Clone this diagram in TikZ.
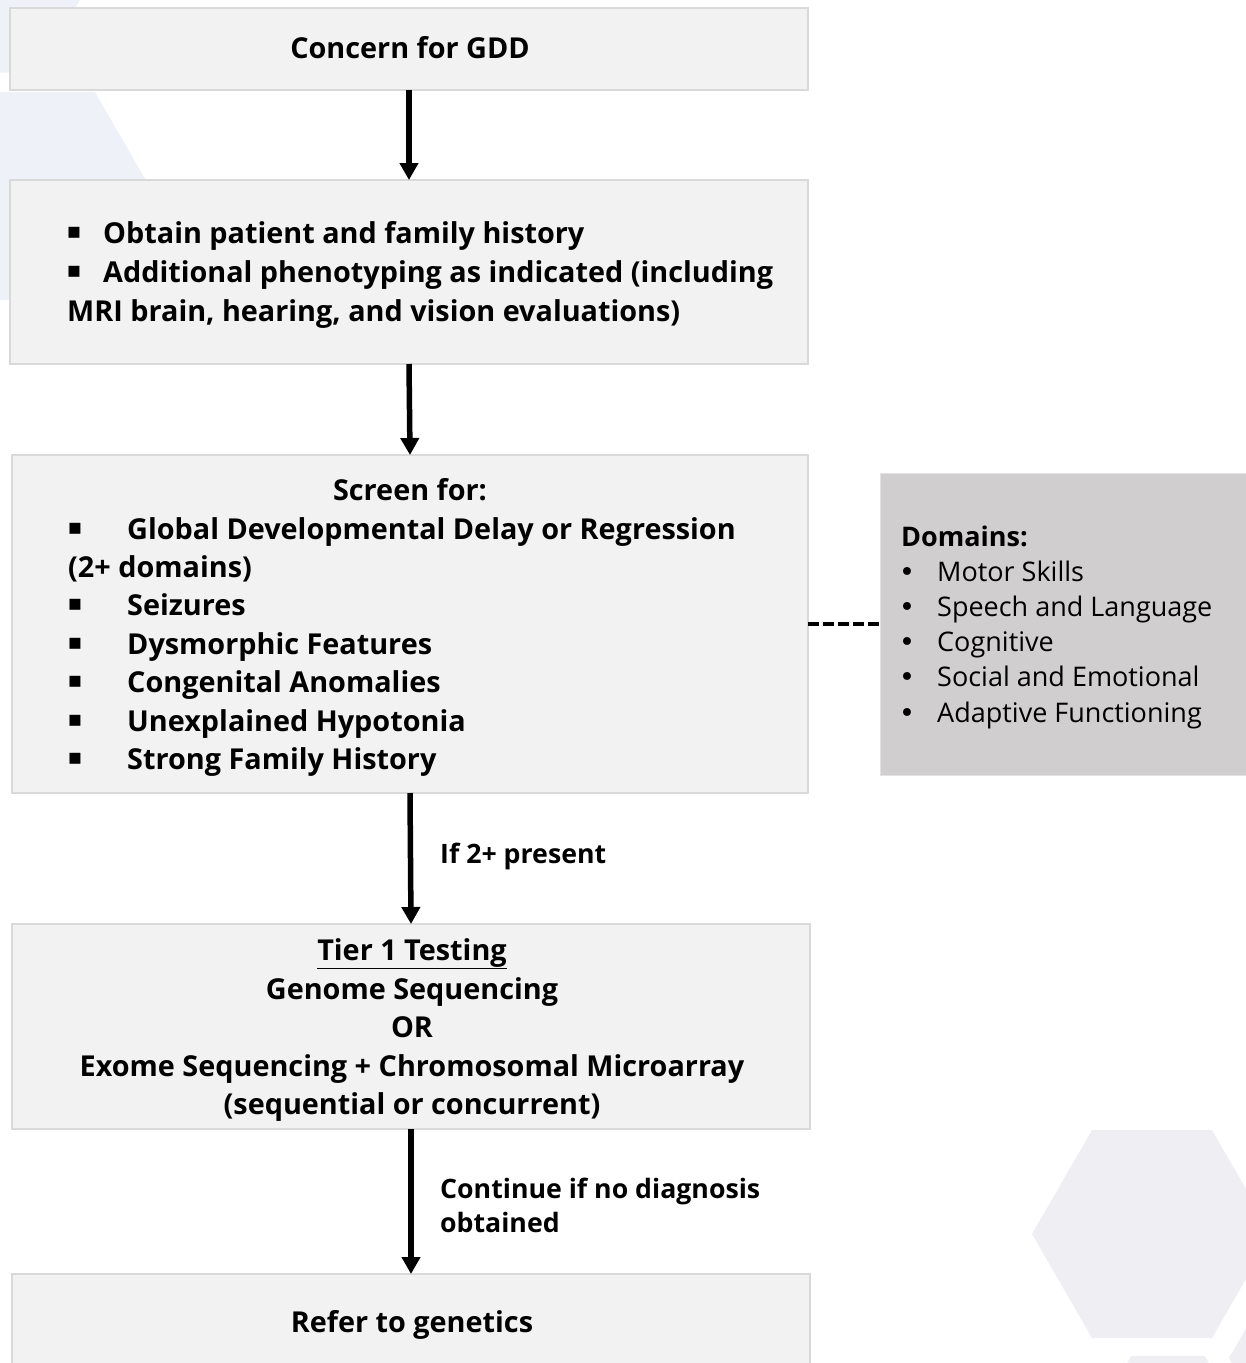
\documentclass[tikz,border=0pt]{standalone}
\usepackage{fontspec}
\setmainfont{Open Sans}
\newfontfamily\symfont{DejaVu Sans}
\usetikzlibrary{arrows.meta}
\definecolor{boxfill}{HTML}{F2F2F2}
\definecolor{boxline}{HTML}{D9D9D9}
\definecolor{domfill}{HTML}{D0CECE}
\definecolor{domline}{HTML}{E2E2E2}
\definecolor{hexa}{HTML}{EEF2F8}
\definecolor{hexb}{HTML}{EEEEF3}
\begin{document}
\begin{tikzpicture}[x=1pt,y=-1pt,
 box/.style={draw=boxline, line width=1.5pt, fill=boxfill, inner sep=0pt, outer sep=0pt},
 dombox/.style={draw=domline, line width=1pt, fill=domfill, inner sep=0pt, outer sep=0pt},
 txt/.style={font=\fontsize{28.8}{34}\selectfont\bfseries, inner sep=0pt, anchor=base west},
 ctxt/.style={txt, anchor=base},
 lbl/.style={font=\fontsize{26.7}{32}\selectfont\bfseries, inner sep=0pt, anchor=base west},
 dtxt/.style={font=\fontsize{27}{32}\selectfont, inner sep=0pt, anchor=base west},
 dbul/.style={font=\fontsize{27}{32}\selectfont\symfont, inner sep=0pt, anchor=base west},
 dhead/.style={dtxt, font=\fontsize{27}{32}\selectfont\bfseries},
 sqb/.style={font=\fontsize{22}{26}\selectfont\symfont, inner sep=0pt, anchor=center},
 flow/.style={line width=5.5pt, -{Triangle[width=18pt,length=17pt]}},
 link/.style={line width=4pt, dash pattern=on 11pt off 4pt}
]
\useasboundingbox (0,0) rectangle (1246,1363);
\begin{scope}
\clip (0,0) rectangle (1246,1363);
\fill[hexa] (-12,-14) +(0:100) -- +(60:100) -- +(120:100) -- +(180:100) -- +(240:100) -- +(300:100) -- cycle;
\fill[hexa] (35,196) +(0:120) -- +(60:120) -- +(120:120) -- +(180:120) -- +(240:120) -- +(300:120) -- cycle;
\fill[hexb] (1152,1234) +(0:120) -- +(60:120) -- +(120:120) -- +(180:120) -- +(240:120) -- +(300:120) -- cycle;
\fill[hexb] (1168,1419) +(0:73) -- +(60:73) -- +(120:73) -- +(180:73) -- +(240:73) -- +(300:73) -- cycle;
\fill[hexb] (1349,1358) +(0:120) -- +(60:120) -- +(120:120) -- +(180:120) -- +(240:120) -- +(300:120) -- cycle;

% boxes
\node[box, minimum width=798pt, minimum height=82pt] (b1) at (409,49) {};
\node[box, minimum width=798pt, minimum height=184pt] (b2) at (409,272) {};
\node[box, minimum width=796pt, minimum height=338pt] (b3) at (410,624) {};
\node[box, minimum width=798pt, minimum height=205pt] (b4) at (411,1026.5) {};
\node[box, minimum width=798pt, minimum height=116pt] (b5) at (411,1332) {};
\node[dombox, minimum width=372pt, minimum height=302pt] (dom) at (1066,624) {};
\end{scope}

% connectors
\draw[flow] (b1.south) -- (b2.north);
\draw[flow] (b2.south) -- (b3.north);
\draw[flow] (b3.south) -- (b4.north);
\draw[flow] (b4.south) -- (b5.north);
\draw[link] (b3.east) -- (dom.west);

% box 1
\node[ctxt] (t1) at (410,58) {Concern for GDD};
% box 2
\node[sqb] (s21) at (74,233) {▪};
\node[txt] (t21) at (103,243) {Obtain patient and family history};
\node[sqb] (s22) at (74,272) {▪};
\node[txt] (t22) at (103,282) {Additional phenotyping as indicated (including};
\node[txt] (t23) at (67,321) {MRI brain, hearing, and vision evaluations)};
% box 3
\node[ctxt] (t30) at (410,500) {Screen for:};
\node[sqb] (s31) at (75,529) {▪};
\node[txt] (t31) at (127,539) {Global Developmental Delay or Regression};
\node[txt] (t32) at (68,577) {(2+ domains)};
\node[sqb] (s33) at (75,605) {▪};
\node[txt] (t33) at (127,615) {Seizures};
\node[sqb] (s34) at (75,644) {▪};
\node[txt] (t34) at (127,654) {Dysmorphic Features};
\node[sqb] (s35) at (75,682) {▪};
\node[txt] (t35) at (127,692) {Congenital Anomalies};
\node[sqb] (s36) at (75,721) {▪};
\node[txt] (t36) at (127,731) {Unexplained Hypotonia};
\node[sqb] (s37) at (75,759) {▪};
\node[txt] (t37) at (127,769) {Strong Family History};
% box 4
\node[ctxt] (t41) at (412,960) {\underline{Tier 1 Testing}};
\node[ctxt] (t42) at (412,999) {Genome Sequencing};
\node[ctxt] (t43) at (412,1037) {OR};
\node[ctxt] (t44) at (412,1076) {Exome Sequencing + Chromosomal Microarray};
\node[ctxt] (t45) at (412,1114) {(sequential or concurrent)};
% box 5
\node[ctxt] (t5) at (412,1332) {Refer to genetics};
% labels
\node[lbl] (l1) at (440,863) {If 2+ present};
\node[lbl] (l2) at (440,1198) {Continue if no diagnosis};
\node[lbl] (l3) at (440,1232) {obtained};
% domains
\node[dhead] (d0) at (901,546) {Domains:};
\node[dbul] (db1) at (899,581) {•};
\node[dtxt] (d1) at (937,581) {Motor Skills};
\node[dbul] (db2) at (899,616) {•};
\node[dtxt] (d2) at (937,616) {Speech and Language};
\node[dbul] (db3) at (899,651) {•};
\node[dtxt] (d3) at (937,651) {Cognitive};
\node[dbul] (db4) at (899,686) {•};
\node[dtxt] (d4) at (937,686) {Social and Emotional};
\node[dbul] (db5) at (899,722) {•};
\node[dtxt] (d5) at (937,722) {Adaptive Functioning};
\end{tikzpicture}
\end{document}
